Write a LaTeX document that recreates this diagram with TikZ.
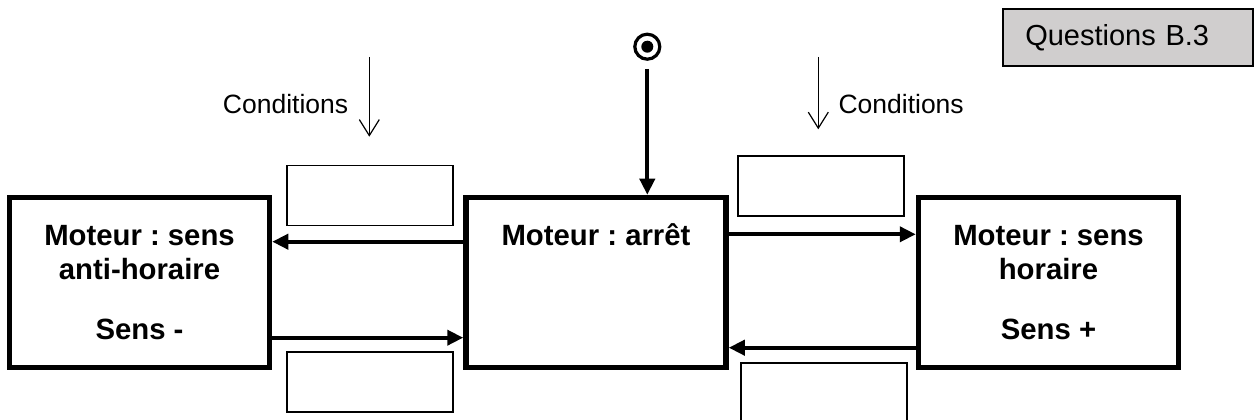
\documentclass[tikz,border=0pt]{standalone}
\usepackage{fontspec}
\setmainfont{Liberation Sans}
\frenchspacing
\usetikzlibrary{arrows.meta,positioning}
\definecolor{questgray}{RGB}{208,206,206}
\tikzset{trans/.style={line width=3.8pt, -{Triangle[length=16pt,width=15pt]}},
  etat/.style={draw, line width=5.5pt, minimum width=260pt, minimum height=170pt, inner sep=0pt,
    align=center, font=\fontsize{29.3}{34}\selectfont\bfseries},
  garde/.style={draw, line width=1.2pt, minimum width=166pt, minimum height=60pt},
  cond/.style={line width=1.2pt, -{Straight Barb[length=16pt,width=20pt]}}}

\begin{document}
\begin{tikzpicture}[x=1pt, y=1pt, font=\fontsize{26.5}{31}\selectfont]
  \useasboundingbox (0,0) rectangle (1256,420);
  % the three states, side ones placed against the middle one
  \node[etat, text height=48pt, text depth=122pt] (arret) at (596,137.5) {Moteur : arrêt};
  \node[etat, left=191pt of arret] (antihor) {Moteur : sens\\anti-horaire\\[26pt]Sens -};
  \node[etat, right=187pt of arret] (hor) {Moteur : sens\\horaire\\[26pt]Sens +};
  \draw[trans] ([yshift=40.8pt]arret.west) -- ([yshift=40.8pt]antihor.east);
  \draw[trans] ([yshift=-55.2pt]antihor.east) -- ([yshift=-55.2pt]arret.west);
  \draw[trans] ([yshift=48.2pt]arret.east) -- ([yshift=48.2pt]hor.west);
  \draw[trans] ([yshift=-65.2pt]hor.west) -- ([yshift=-65.2pt]arret.east);
  % empty boxes for the conditions of each transition
  \node[garde] (g1) at (370,224.5) {};
  \node[garde] (g2) at (821,234) {};
  \node[garde] (g3) at (370,38) {};
  \node[garde] (g4) at (824,27) {};
  % initial state
  \node[circle, draw, line width=3.2pt, minimum size=25pt, inner sep=0pt] (init) at (647.3,373.3) {};
  \fill (init.center) circle (6pt);
  \draw[trans] ([yshift=-8pt]init.south) -- (init.south |- arret.north);
  % "Conditions" pointers
  \coordinate (c1) at (369.3,363);
  \coordinate (c1b) at (369.3,283.3);
  \coordinate (c2) at (818.3,363);
  \coordinate (c2b) at (818.3,290.7);
  \draw[cond] (c1) -- (c1b);
  \draw[cond] (c2) -- (c2b);
  \node[anchor=base east] (cond1) at (351.7,306) {Conditions};
  \node[anchor=base west] (cond2) at (835,306) {Conditions};
  \node[draw, fill=questgray, line width=2pt, text width=206pt, inner xsep=22pt, align=left,
    minimum height=57pt, font=\fontsize{29}{34}\selectfont] (quest) at (1128.3,382) {Questions B.3};
\end{tikzpicture}
\end{document}
